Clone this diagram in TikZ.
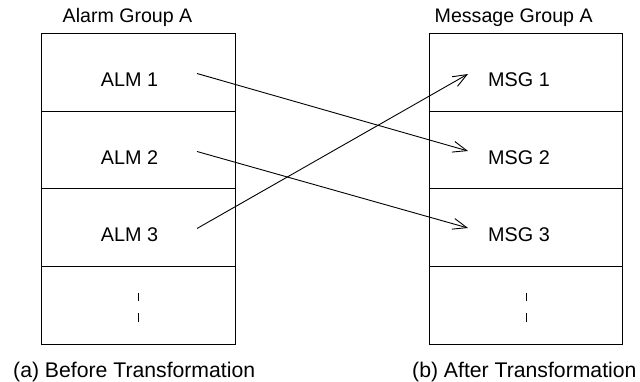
\documentclass[tikz,border=0pt]{standalone}
\usepackage{fontspec}
\setmainfont{Liberation Sans}
\usetikzlibrary{arrows.meta}
\begin{document}
\begin{tikzpicture}[x=1pt,y=-1pt,
  cell/.style={draw,line width=1pt,minimum width=193.5pt,minimum height=77.5pt,inner sep=0pt},
  celltext/.style={anchor=base,inner sep=0pt,font=\fontsize{19.8}{22}\selectfont},
  grouptitle/.style={anchor=base west,inner sep=0pt,font=\fontsize{19.6}{22}\selectfont},
  caption/.style={anchor=base west,inner sep=0pt,font=\fontsize{21.2}{24}\selectfont},
  map/.style={line width=0.9pt,-{Straight Barb[length=14pt,width=11pt,line width=0.9pt]}},
  ellipsis/.style={line width=1pt,dash pattern=on 9pt off 12pt}]
\useasboundingbox (0,0) rectangle (640,382);

% left column: alarm group
\node[cell] (a1) at (138.5,72.75) {};
\node[cell] (a2) at (138.5,150.25) {};
\node[cell] (a3) at (138.5,227.75) {};
\node[cell] (a4) at (138.5,305.25) {};
% right column: message group
\node[cell] (m1) at (526,72.75) {};
\node[cell] (m2) at (526,150.25) {};
\node[cell] (m3) at (526,227.75) {};
\node[cell] (m4) at (526,305.25) {};

\node[grouptitle] (ta) at (62.5,23) {Alarm Group A};
\node[grouptitle] (tm) at (434.5,23) {Message Group A};

\node[celltext] (la1) at (129.5,87) {ALM 1};
\node[celltext] (la2) at (129.5,164.5) {ALM 2};
\node[celltext] (la3) at (129.5,242) {ALM 3};
\node[celltext] (lm1) at (519,87) {MSG 1};
\node[celltext] (lm2) at (519,164.5) {MSG 2};
\node[celltext] (lm3) at (519,242) {MSG 3};

% continuation marks in the last row
\draw[ellipsis] ([yshift=-17pt]a4.center) -- ([yshift=12pt]a4.center);
\draw[ellipsis] ([yshift=-17pt]m4.center) -- ([yshift=12pt]m4.center);

% mapping arrows
\coordinate (s1) at (197,73.5);
\coordinate (s2) at (197,151.5);
\coordinate (s3) at (197,228.5);
\coordinate (e1) at (468,74);
\coordinate (e2) at (468,151);
\coordinate (e3) at (468,228);
\draw[map] (s1) -- (e2);
\draw[map] (s2) -- (e3);
\draw[map] (s3) -- (e1);

\node[caption] (ca) at (13,377) {(a) Before Transformation};
\node[caption] (cb) at (412,377) {(b) After Transformation};
\end{tikzpicture}
\end{document}
